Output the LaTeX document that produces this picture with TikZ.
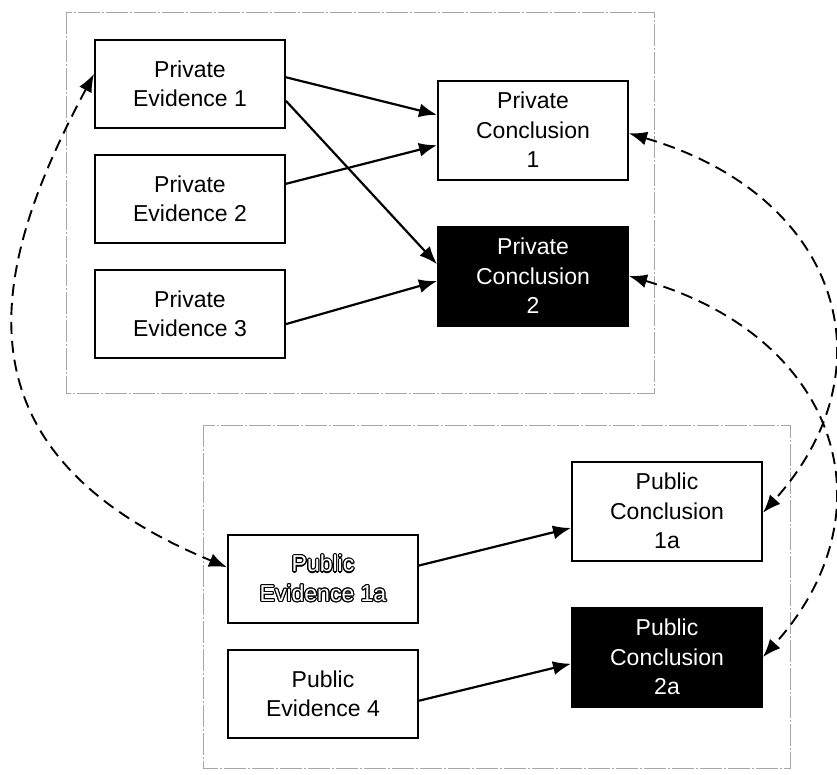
\documentclass[tikz,border=0pt]{standalone}
\usepackage{fontspec}
\setmainfont{Liberation Sans}
\usepackage{contour}
\contourlength{1.1pt}
\usetikzlibrary{arrows.meta,positioning}

\tikzset{
  card/.style={draw=black, line width=2pt, minimum width=190pt, inner sep=0pt,
    align=center, font=\fontsize{23}{29.5}\selectfont},
  evbox/.style={card, minimum height=88pt},
  concbox/.style={card, minimum height=99pt},
  darkbox/.style={concbox, fill=black, text=white},
  infer/.style={-{Latex[length=18pt,width=14pt]}, line width=2.2pt},
  link/.style={{Latex[length=18pt,width=14pt]}-{Latex[length=18pt,width=14pt]},
    line width=1.9pt, dash pattern=on 12pt off 7pt},
  panel/.style={draw=gray!70, line width=0.8pt, dash pattern=on 22pt off 2pt on 2pt off 2pt}
}

\begin{document}
\begin{tikzpicture}[x=1pt,y=-1pt]
\useasboundingbox (0,0) rectangle (837,774);

\draw[panel] (66,12) rectangle (654,393);
\draw[panel] (203,425) rectangle (790,768);

\node[evbox] (pe1) at (190,84) {Private\\Evidence 1};
\node[evbox, below=25pt of pe1] (pe2) {Private\\Evidence 2};
\node[evbox, below=25pt of pe2] (pe3) {Private\\Evidence 3};
\node[concbox] (pc1) at (533,130) {Private\\Conclusion\\1};
\node[darkbox, below=45pt of pc1] (pc2) {Private\\Conclusion\\2};

\node[evbox, text=white] (pub1a) at (323,579) {\contour{black}{Public}\\\contour{black}{Evidence 1a}};
\node[evbox, below=25pt of pub1a] (pub4) {Public\\Evidence 4};
\node[concbox] (pc1a) at (667,511) {Public\\Conclusion\\1a};
\node[darkbox, below=45pt of pc1a] (pc2a) {Public\\Conclusion\\2a};

\draw[infer] (pe1.4) -- (pc1.171);
\draw[infer] (pe1.-10) -- (pc2.173);
\draw[infer] (pe2.9) -- (pc1.189);
\draw[infer] (pe3.-6) -- (pc2.183);
\draw[infer] (pub1a.8) -- (pc1a.190);
\draw[infer] (pub4.-4) -- (pc2a.184);

\draw[link] (pe1.174) .. controls +(-97,182) and +(-290,-120) .. (pub1a.173);
\draw[link] (pc1.-2) .. controls +(211,62) and +(130,-144) .. (pc1a.-1);
\draw[link] (pc2.east) .. controls +(211,62) and +(130,-144) .. (pc2a.east);
\end{tikzpicture}
\end{document}
